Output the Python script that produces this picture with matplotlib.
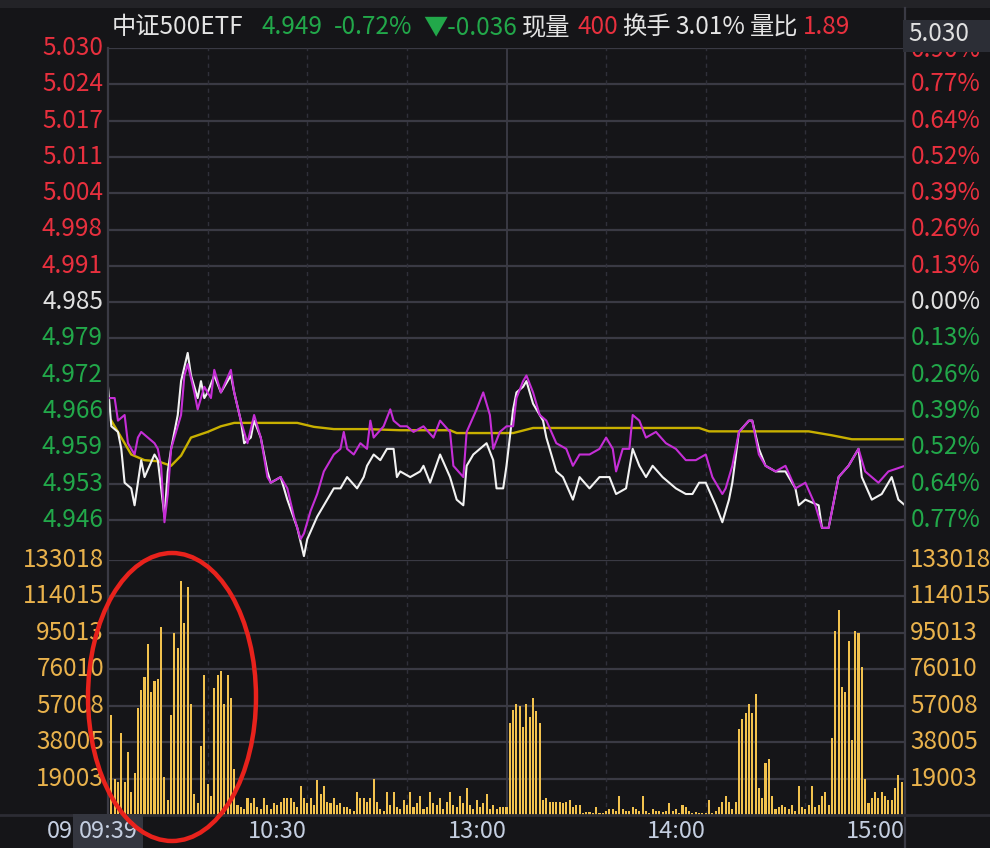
import numpy as np
import matplotlib
matplotlib.use("Agg")
import matplotlib.pyplot as plt
from matplotlib.patches import Ellipse, Rectangle
from matplotlib.transforms import blended_transform_factory, Bbox

plt.rcParams['font.family'] = ['Noto Sans CJK SC', 'DejaVu Sans']

# ---------------- data ----------------
prev_close = 4.985
price_step = 0.006431
price_labels = ["5.030", "5.024", "5.017", "5.011", "5.004", "4.998", "4.991",
                "4.985", "4.979", "4.972", "4.966", "4.959", "4.953", "4.946"]
pct_labels = ["0.90%", "0.77%", "0.64%", "0.52%", "0.39%", "0.26%", "0.13%",
              "0.00%", "0.13%", "0.26%", "0.39%", "0.52%", "0.64%", "0.77%"]
vol_labels = ["133018", "114015", "95013", "76010", "57008", "38005", "19003"]
vol_step = 19003
time_labels = ["09", "10:30", "13:00", "14:00", "15:00"]
time_label_pos = [-10.5, 60, 120, 180, 240]
cursor_time = "09:39"
cursor_price = "5.030"

# price line (minute index, price)
t_price = [0, 1, 3, 4, 5, 7, 8, 9, 10, 11, 14, 15, 17, 18, 19, 21, 22, 24, 25, 27,
           28, 29, 30, 32, 34, 37, 38, 40, 41, 43, 44, 46, 48, 49, 52, 54, 57, 59, 60, 63,
           66, 68, 70, 72, 75, 77, 78, 80, 82, 84, 86, 87, 88, 91, 94, 95, 97, 100, 103, 105,
           107, 108, 110, 114, 116, 117, 119, 120, 122, 123, 125, 126, 128, 131, 132, 135, 137, 140, 142, 145,
           148, 151, 153, 156, 158, 160, 162, 164, 167, 171, 174, 176, 178, 180, 183, 185, 187, 188, 190, 193,
           194, 196, 198, 201, 204, 207, 208, 210, 214, 215, 217, 220, 223, 226, 227, 230, 233, 236, 238, 240]
price = [4.970, 4.963, 4.962, 4.959, 4.953, 4.952, 4.949, 4.953, 4.957, 4.954, 4.958, 4.957, 4.947, 4.955, 4.959, 4.965, 4.971, 4.976, 4.972, 4.968,
         4.971, 4.968, 4.969, 4.972, 4.969, 4.972, 4.969, 4.964, 4.960, 4.961, 4.964, 4.961, 4.955, 4.953, 4.954, 4.950, 4.945, 4.940, 4.943, 4.947,
         4.950, 4.952, 4.952, 4.954, 4.952, 4.954, 4.956, 4.958, 4.957, 4.959, 4.959, 4.954, 4.955, 4.954, 4.955, 4.956, 4.953, 4.958, 4.954, 4.950,
         4.949, 4.956, 4.958, 4.960, 4.957, 4.952, 4.952, 4.956, 4.966, 4.969, 4.970, 4.971, 4.967, 4.964, 4.961, 4.955, 4.954, 4.950, 4.954, 4.952,
         4.954, 4.954, 4.951, 4.952, 4.959, 4.956, 4.954, 4.956, 4.954, 4.952, 4.951, 4.951, 4.953, 4.953, 4.949, 4.946, 4.950, 4.953, 4.962, 4.964,
         4.964, 4.959, 4.956, 4.955, 4.955, 4.952, 4.949, 4.950, 4.949, 4.945, 4.945, 4.954, 4.956, 4.959, 4.954, 4.950, 4.951, 4.954, 4.950, 4.949]

# purple line (minute index, value)
t_purple = [0, 2, 3, 5, 6, 8, 9, 10, 12, 14, 15, 16, 17, 18, 19, 20, 22, 23, 24, 26,
            27, 29, 31, 32, 34, 37, 38, 40, 42, 44, 46, 48, 49, 52, 54, 56, 58, 59, 61, 63,
            65, 68, 70, 71, 72, 74, 76, 78, 79, 80, 83, 85, 86, 88, 90, 92, 95, 98, 100, 103,
            104, 107, 108, 111, 113, 115, 116, 118, 120, 122, 123, 125, 126, 128, 130, 132, 135, 138, 140, 142,
            145, 148, 150, 152, 153, 155, 157, 158, 160, 162, 165, 168, 171, 174, 177, 180, 182, 185, 186, 188,
            190, 193, 194, 196, 198, 201, 204, 207, 210, 213, 215, 217, 220, 223, 226, 228, 232, 235, 240]
purple = [4.968, 4.968, 4.964, 4.965, 4.960, 4.958, 4.961, 4.962, 4.961, 4.960, 4.959, 4.956, 4.946, 4.951, 4.959, 4.961, 4.965, 4.972, 4.974, 4.969,
          4.966, 4.970, 4.968, 4.973, 4.969, 4.973, 4.969, 4.964, 4.960, 4.965, 4.961, 4.954, 4.953, 4.954, 4.952, 4.947, 4.943, 4.944, 4.948, 4.951,
          4.955, 4.958, 4.959, 4.962, 4.959, 4.958, 4.960, 4.959, 4.964, 4.961, 4.963, 4.966, 4.964, 4.963, 4.963, 4.962, 4.963, 4.961, 4.964, 4.962,
          4.956, 4.954, 4.962, 4.966, 4.969, 4.965, 4.959, 4.962, 4.963, 4.963, 4.968, 4.971, 4.972, 4.969, 4.965, 4.964, 4.960, 4.959, 4.956, 4.958,
          4.958, 4.959, 4.961, 4.959, 4.955, 4.959, 4.959, 4.965, 4.964, 4.961, 4.962, 4.960, 4.959, 4.957, 4.957, 4.958, 4.954, 4.951, 4.952, 4.956,
          4.962, 4.964, 4.964, 4.958, 4.956, 4.955, 4.956, 4.952, 4.953, 4.949, 4.945, 4.945, 4.954, 4.956, 4.959, 4.955, 4.953, 4.955, 4.956]

# average price line
t_avg = [1, 7, 11, 15, 19, 22, 25, 30, 34, 38, 46, 57, 62, 68, 78, 88, 103, 105, 122, 128,
         178, 181, 211, 218, 224, 240]
avg = [4.9640, 4.9580, 4.9570, 4.9568, 4.9560, 4.9578, 4.9610, 4.9620, 4.9630, 4.9636, 4.9636, 4.9636, 4.9629, 4.9625, 4.9625, 4.9623, 4.9623, 4.9618, 4.9618, 4.9627,
       4.9627, 4.9621, 4.9621, 4.9614, 4.9607, 4.9607]

# volume per minute (minute 1 .. 240)
volume = [52000, 19000, 17000, 43000, 17000, 33000, 12000, 22000, 56000, 65000,
          72000, 89000, 64000, 70000, 71000, 98000, 20000, 8000, 52000, 95000,
          87000, 122000, 100000, 119000, 58000, 11000, 6000, 36000, 73000, 16000,
          10000, 66000, 73000, 75000, 58000, 73000, 61000, 24000, 5000, 4000,
          3000, 9000, 6000, 9000, 4000, 3000, 9000, 5000, 3000, 6000,
          5000, 7000, 9000, 9000, 9000, 7000, 4000, 15000, 9000, 6000,
          9000, 5000, 18000, 11000, 15000, 7000, 6000, 9000, 5000, 6000,
          4000, 4000, 3000, 2000, 12000, 9000, 9000, 7000, 9000, 19000,
          7000, 3000, 2000, 12000, 5000, 12000, 4000,
          3000, 8000, 5000, 12000, 4000, 6000, 10000, 3000, 4000, 12000,
          6000, 5000, 9000, 3000, 7000, 12000, 5000, 4000, 10000, 6000,
          14000, 5000, 3000, 8000, 4000, 6000, 11000, 3000, 5000, 3000,
          4000, 4000, 4000,
          48000, 55000, 58000, 57000, 46000, 58000, 51000, 61000, 54000, 48000,
          8000, 9000, 7000, 7000, 7000, 7000, 6000, 7000, 8000, 4000,
          5000, 5000, 1000, 1500, 1500, 1000, 4000, 1000, 1000, 2000,
          3000, 3000, 2000, 10000, 3000, 2000, 2000, 4000, 3000, 2000,
          10000, 2000, 1000, 3000, 2000, 2000, 1500, 2000, 6000, 2000,
          3000, 1000, 5000, 4000, 2000, 1000, 1500, 1000, 1000, 1000,
          8000, 1000, 2000, 4000, 7000, 10000, 7000, 3000, 7000, 45000,
          50000, 53000, 58000, 53000, 63000, 14000, 9000, 27000, 29000, 10000,
          3000, 4000, 5000, 4000, 3000, 5000, 2000, 15000, 4000, 3000,
          5000, 15000, 4000, 5000, 10000, 12000, 5000, 40000, 96000, 107000,
          67000, 64000, 91000, 39000, 96000, 95000, 77000, 19000, 6000, 9000,
          12000, 9000, 12000, 10000, 8000, 8000, 14000, 21000, 17000, 22000]

header = [("中证500ETF", "#e4e4e4"), ("4.949", "#22a84a"), ("-0.72%", "#22a84a"),
          ("▼-0.036", "#22a84a"), ("现量", "#e4e4e4"), ("400", "#e8303e"),
          ("换手", "#e4e4e4"), ("3.01%", "#e4e4e4"), ("量比", "#e4e4e4"), ("1.89", "#e8303e")]
header_x = [112, 262, 334, 423, 522, 578, 622, 675, 750, 803]

# ---------------- style ----------------
W, H = 990, 848
BG = "#151518"
GRID = "#3a3a44"
RED = "#e8303e"
GREEN = "#22a84a"
NEUTRAL = "#e0e0e0"
ORANGE = "#e9b24c"
TIMEC = "#c4cee0"
FS = 17.5
FS_H = 17.5
FS_T = 17

fig = plt.figure(figsize=(W / 100, H / 100), dpi=100, facecolor=BG)

def fx(px):
    return px / W

def fy(py):
    return 1 - py / H

L, R = 108, 905
P_TOP, P_BOT = 48, 559
V_TOP, V_BOT = 560, 815

axp = fig.add_axes([fx(L), fy(P_BOT), fx(R - L), (P_BOT - P_TOP) / H])
axv = fig.add_axes([fx(L), fy(V_BOT), fx(R - L), (V_BOT - V_TOP) / H])
for ax in (axp, axv):
    ax.set_facecolor(BG)
    for s in ax.spines.values():
        s.set_visible(False)
    ax.set_xticks([])
    ax.set_yticks([])
    ax.set_xlim(0, 240)

top_price = prev_close + 7 * price_step
axp.set_ylim(top_price - (P_BOT - P_TOP) * price_step / 36.3, top_price)
axv.set_ylim(0, vol_step * 7)

# top band
fig.patches.append(Rectangle((0, fy(8)), 1, 8 / H, transform=fig.transFigure,
                             facecolor="#232327", edgecolor="none", zorder=0))

# horizontal grid lines
levels = [prev_close + (7 - k) * price_step for k in range(len(price_labels))]
for lv in levels:
    axp.axhline(lv, color=GRID, lw=1.6, zorder=1)
for k in range(len(vol_labels)):
    axv.axhline(vol_step * (7 - k), color=GRID, lw=1.6, zorder=1)

# vertical grid lines
for ax in (axp, axv):
    for t in (30, 60, 90, 150, 180, 210):
        ax.axvline(t, color="#30303a", lw=1.0, ls=(0, (3, 3)), zorder=1)
    ax.axvline(120, color=GRID, lw=1.4, zorder=1)

# borders
fig.add_artist(plt.Line2D([fx(L), fx(L)], [fy(P_TOP), fy(V_BOT)], color=GRID, lw=1.6))
fig.add_artist(plt.Line2D([fx(R), fx(R)], [fy(8), fy(H)], color=GRID, lw=1.6))
fig.add_artist(plt.Line2D([0, 1], [fy(V_BOT), fy(V_BOT)], color="#2c2c34", lw=2.0))

# lines
axp.plot(t_avg, avg, color="#c8b000", lw=1.7, zorder=3)
axp.plot(t_price, price, color="#f2f2f2", lw=1.5, zorder=4)
axp.plot(t_purple, purple, color="#c52ed6", lw=1.5, zorder=5)

# volume bars
axv.bar(np.arange(1, len(volume) + 1), volume, width=0.62, color="#f2c24e", zorder=3)

# left price labels / right percent labels
trL = blended_transform_factory(fig.transFigure, axp.transData)
clip_top = Bbox.from_extents(905, 0, W, H - 52)
for k, (lab, pl) in enumerate(zip(price_labels, pct_labels)):
    c = RED if k < 7 else (NEUTRAL if k == 7 else GREEN)
    axp.text(fx(103), levels[k], lab, transform=trL, ha="right", va="center",
             color=c, fontsize=FS, clip_on=False)
    if k == 0:
        # partly hidden behind the cursor price box
        t = axp.text(fx(911), levels[k] - 0.0004, pl, transform=trL, ha="left", va="center",
                     color=c, fontsize=FS)
        t.set_clip_on(True)
        t.set_clip_box(clip_top)
    else:
        axp.text(fx(911), levels[k], pl, transform=trL, ha="left", va="center",
                 color=c, fontsize=FS, clip_on=False)

trV = blended_transform_factory(fig.transFigure, axv.transData)
for k, lab in enumerate(vol_labels):
    v = vol_step * (7 - k)
    axv.text(fx(104), v, lab, transform=trV, ha="right", va="center",
             color=ORANGE, fontsize=FS, clip_on=False)
    axv.text(fx(910), v, lab, transform=trV, ha="left", va="center",
             color=ORANGE, fontsize=FS, clip_on=False)

# time labels (right-aligned to grid lines)
trT = blended_transform_factory(axv.transData, fig.transFigure)
for lab, t in zip(time_labels, time_label_pos):
    axv.text(t, fy(831), lab, transform=trT, ha="right", va="center",
             color=TIMEC, fontsize=FS_T, clip_on=False)

# cursor boxes
fig.patches.append(Rectangle((fx(73), fy(848)), fx(70), 34 / H, transform=fig.transFigure,
                             facecolor="#34363f", edgecolor="none", zorder=5))
fig.text(fx(108), fy(831), cursor_time, ha="center", va="center", color=TIMEC,
         fontsize=FS_T, zorder=6)
fig.patches.append(Rectangle((fx(903), fy(52)), fx(87), 32 / H, transform=fig.transFigure,
                             facecolor="#2c2e36", edgecolor="none", zorder=5))
fig.text(fx(908), fy(34), cursor_price, ha="left", va="center", color=NEUTRAL,
         fontsize=FS, zorder=6)

# header
for (txt, c), x in zip(header, header_x):
    fig.text(fx(x), fy(27), txt, ha="left", va="center", color=c, fontsize=FS_H)

# red annotation ellipse
fig.patches.append(Ellipse((fx(172), fy(697)), fx(168), 288 / H, transform=fig.transFigure,
                           facecolor="none", edgecolor="#e8221c", lw=3.2, zorder=7))

fig.savefig("out.png", dpi=100, facecolor=BG)
